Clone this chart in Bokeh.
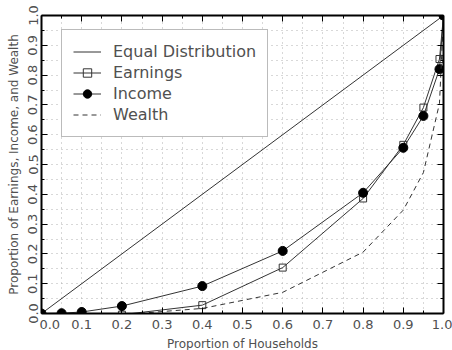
from bokeh.plotting import figure
from bokeh.models import Range1d, LinearAxis, FixedTicker, Legend, LegendItem, Title
from bokeh.embed import file_html
from bokeh.resources import INLINE

# Lorenz curves: cumulative share held by the poorest fraction of households
equal_x = [0.0, 1.0]
equal_y = [0.0, 1.0]

earnings_x = [0.2, 0.4, 0.6, 0.8, 0.9, 0.95, 0.99, 1.0]
earnings_y = [-0.004, 0.028, 0.154, 0.386, 0.566, 0.691, 0.854, 1.0]

income_x = [0.0, 0.05, 0.1, 0.2, 0.4, 0.6, 0.8, 0.9, 0.95, 0.99, 1.0]
income_y = [0.0, 0.001, 0.005, 0.025, 0.092, 0.210, 0.405, 0.556, 0.663, 0.820, 1.0]

wealth_x = [0.2, 0.4, 0.6, 0.8, 0.9, 0.95, 0.99, 1.0]
wealth_y = [-0.004, 0.017, 0.071, 0.206, 0.347, 0.473, 0.705, 1.0]

tick_values = [0.0, 0.1, 0.2, 0.3, 0.4, 0.5, 0.6, 0.7, 0.8, 0.9, 1.0]
tick_labels = ["0.0", "0.1", "0.2", "0.3", "0.4", "0.5", "0.6", "0.7", "0.8", "0.9", "1.0"]
minor_values = [0.05, 0.15, 0.25, 0.35, 0.45, 0.55, 0.65, 0.75, 0.85, 0.95]

x_title = "Proportion of Households"
y_title = "Proportion of Earnings, Income, and Wealth"

FONT = "DejaVu Sans"
TEXT = "#505050"
INK = "#333333"

p = figure(width=452, height=350, output_backend="svg", toolbar_location=None,
           x_range=Range1d(0, 1), y_range=Range1d(0, 1),
           y_axis_label=y_title,
           min_border_left=41, min_border_right=9, min_border_top=15, min_border_bottom=37)
p.outline_line_color = None
p.background_fill_color = "white"

grid_ticks = sorted(tick_values + minor_values)
for g in (p.xgrid[0], p.ygrid[0]):
    g.ticker = FixedTicker(ticks=grid_ticks)
    g.grid_line_color = "#b0b0b0"
    g.grid_line_dash = "1 4"
    g.grid_line_width = 1


def style_axis(ax):
    ax.ticker = FixedTicker(ticks=tick_values, minor_ticks=minor_values)
    ax.axis_line_color = "black"
    ax.axis_line_width = 2
    ax.major_tick_in = 6
    ax.major_tick_out = 0
    ax.minor_tick_in = 3
    ax.minor_tick_out = 0
    ax.major_tick_line_color = "black"
    ax.minor_tick_line_color = "black"
    ax.major_label_text_font = FONT
    ax.major_label_text_color = TEXT
    ax.major_label_text_font_size = "13px"
    ax.axis_label_text_font = FONT
    ax.axis_label_text_font_style = "normal"
    ax.axis_label_text_color = TEXT
    ax.axis_label_text_font_size = "12px"


xa = p.xaxis[0]
ya = p.yaxis[0]
style_axis(xa)
style_axis(ya)
xa.major_label_overrides = {v: t for v, t in zip(tick_values, tick_labels)}
xa.major_label_overrides[0.0] = "\u2007\u20070.0"
ya.major_label_overrides = {v: t for v, t in zip(tick_values, tick_labels)}
ya.major_label_orientation = "vertical"
xa.major_label_standoff = 3
ya.major_label_standoff = 4
ya.axis_label_standoff = 5

# x title as a panel below the tick labels
p.add_layout(Title(text=x_title, align="center", text_font=FONT, text_font_size="12px",
                   text_font_style="normal", text_color=TEXT, standoff=0), "below")

# tick-only frame axes along the top and right edges
for side in ("above", "right"):
    ax = LinearAxis(ticker=FixedTicker(ticks=tick_values, minor_ticks=minor_values),
                    axis_line_color="black", axis_line_width=2,
                    major_tick_in=6, major_tick_out=0, minor_tick_in=3, minor_tick_out=0,
                    major_tick_line_color="black", minor_tick_line_color="black",
                    major_label_text_color=None, major_label_text_font_size="1px",
                    major_label_standoff=0)
    p.add_layout(ax, side)

r_equal = p.line(equal_x, equal_y, line_color=INK, line_width=1)

r_earn_line = p.line(earnings_x, earnings_y, line_color=INK, line_width=1)
r_earn_pts = p.scatter(earnings_x, earnings_y, marker="square", size=7,
                       fill_color=None, line_color=INK, line_width=1)

r_inc_line = p.line(income_x, income_y, line_color=INK, line_width=1)
r_inc_pts = p.scatter(income_x, income_y, marker="circle", size=9,
                      fill_color="black", line_color="black")

r_wealth = p.line(wealth_x, wealth_y, line_color=INK, line_width=1, line_dash="5 4")

legend = Legend(items=[
    LegendItem(label="Equal Distribution", renderers=[r_equal]),
    LegendItem(label="Earnings", renderers=[r_earn_line, r_earn_pts]),
    LegendItem(label="Income", renderers=[r_inc_line, r_inc_pts]),
    LegendItem(label="Wealth", renderers=[r_wealth]),
], location=(20, 176))
legend.label_text_font = FONT
legend.label_text_font_size = "16px"
legend.label_text_color = TEXT
legend.border_line_color = "#777777"
legend.border_line_width = 1
legend.background_fill_color = "white"
legend.background_fill_alpha = 1
legend.padding = 11
legend.spacing = 0
legend.margin = 0
legend.glyph_width = 28
legend.glyph_height = 21
legend.label_height = 21
legend.label_standoff = 12
p.add_layout(legend, "center")

open("out.html", "w").write(file_html(p, INLINE))
